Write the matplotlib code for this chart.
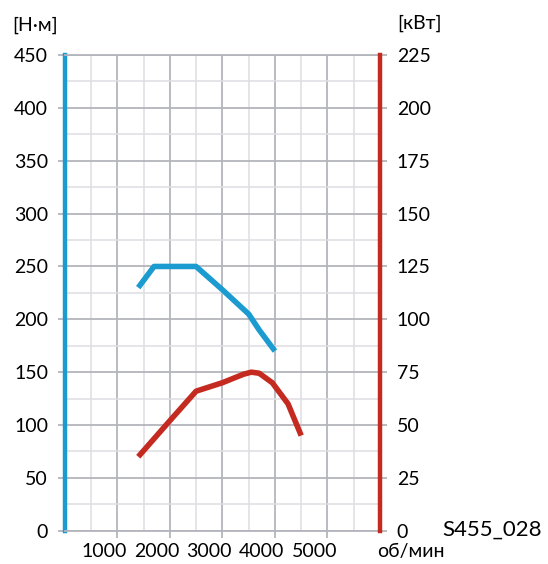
import matplotlib
matplotlib.use("Agg")
import matplotlib.pyplot as plt
import matplotlib.transforms as mtransforms

plt.rcParams['font.family'] = ['Lato', 'DejaVu Sans']

# torque curve, Nm over rpm
torque_rpm = [1400, 1700, 2500, 3000, 3500, 3700, 4000]
torque_nm = [230, 250, 250, 228, 205, 190, 170]

# power curve, kW over rpm
power_rpm = [1400, 2000, 2500, 3000, 3400, 3550, 3700, 3950, 4250, 4500]
power_kw = [35, 52, 66, 70, 74, 75, 74.5, 70, 60, 45]

rpm_ticks = [1000, 2000, 3000, 4000, 5000]
nm_ticks = list(range(0, 451, 50))
kw_ticks = list(range(0, 226, 25))

BLUE = '#1b9bd0'
RED = '#c42a1f'
MAJ = '#b4b4bc'
MIN = '#dedee3'
FS = 14

fig = plt.figure(figsize=(5.48, 5.64), dpi=100)
ax = fig.add_axes([0.118, 0.059, 0.5755, 0.8434])
ax.set_xlim(0, 6000)
ax.set_ylim(0, 450)

ax.set_xticks(range(1000, 6000, 1000))
ax.set_xticks(range(500, 6000, 1000), minor=True)
ax.set_yticks(nm_ticks)
ax.set_yticks(range(25, 450, 50), minor=True)
ax.grid(True, which='major', color=MAJ, lw=1.3)
ax.grid(True, which='minor', color=MIN, lw=1.1)
ax.set_axisbelow(True)

ax.tick_params(which='major', length=5, width=1.3, color=MAJ, labelsize=FS, pad=7)
ax.tick_params(which='minor', length=0)
ax.tick_params(axis='x', labelbottom=False)

# rpm labels sit a little left of their grid lines
shift = mtransforms.ScaledTranslation(-13 / 100, -21 / 100, fig.dpi_scale_trans)
xform = mtransforms.blended_transform_factory(ax.transData, ax.transAxes) + shift
for v in rpm_ticks:
    ax.text(v, 0, str(v), transform=xform, ha='center', va='center', fontsize=FS)

for s in ('top', 'bottom'):
    ax.spines[s].set_color(MAJ)
    ax.spines[s].set_linewidth(1.3)
ax.spines['left'].set_color(BLUE)
ax.spines['left'].set_linewidth(3.2)
ax.spines['right'].set_visible(False)

ax.plot(torque_rpm, torque_nm, color=BLUE, lw=4, solid_capstyle='butt', solid_joinstyle='round')

ax2 = ax.twinx()
ax2.set_ylim(0, 225)
ax2.set_yticks(kw_ticks)
ax2.tick_params(length=5, width=1.3, color=MAJ, labelsize=FS, pad=7)
for s in ('top', 'bottom', 'left'):
    ax2.spines[s].set_visible(False)
ax2.spines['right'].set_color(RED)
ax2.spines['right'].set_linewidth(3.2)
ax2.plot(power_rpm, power_kw, color=RED, lw=4, solid_capstyle='butt', solid_joinstyle='round')

fig.text(12 / 548, 1 - 25 / 564, '[Н·м]', fontsize=FS, va='center', ha='left')
fig.text(397 / 548, 1 - 23 / 564, '[кВт]', fontsize=FS, va='center', ha='left')
fig.text(377 / 548, 1 - 551 / 564, 'об/мин', fontsize=FS, va='center', ha='left')
fig.text(442 / 548, 1 - 530 / 564, 'S455_028', fontsize=16, va='center', ha='left')

fig.savefig('out.png', dpi=100)
